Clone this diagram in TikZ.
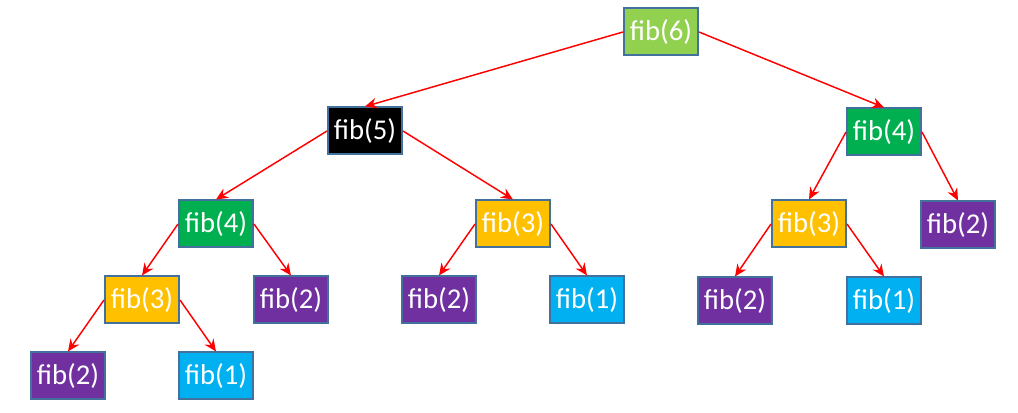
\documentclass[tikz,border=0pt]{standalone}
\usepackage{fontspec}
\setmainfont{Carlito}
\usetikzlibrary{arrows.meta}
\definecolor{boxborder}{HTML}{41719C}
\definecolor{lightgreen}{HTML}{92D050}
\definecolor{darkgreen}{HTML}{00B050}
\definecolor{gold}{HTML}{FFC000}
\definecolor{violet}{HTML}{7030A0}
\definecolor{skyblue}{HTML}{00B0F0}
\begin{document}
\begin{tikzpicture}[x=0.75pt,y=-0.75pt,
  fibbox/.style={draw=boxborder, line width=1.5pt, minimum width=55.5pt,
    minimum height=35.25pt, inner sep=0pt, text=white,
    font=\fontsize{21.5}{25}\selectfont},
  call/.style={draw=red, line width=1.1pt, -{Stealth[length=9pt,width=8pt]}}]
\useasboundingbox (0,0) rectangle (1018,413);
% tree of calls
\node[fibbox, fill=lightgreen] (f6)  at (661,32)  {fib(6)};
\node[fibbox, fill=black]      (f5)  at (365,131) {fib(5)};
\node[fibbox, fill=darkgreen]  (f4r) at (884,132) {fib(4)};
\node[fibbox, fill=darkgreen]  (f4l) at (216,224) {fib(4)};
\node[fibbox, fill=gold]       (f3m) at (513,224) {fib(3)};
\node[fibbox, fill=gold]       (f3r) at (809,224) {fib(3)};
\node[fibbox, fill=violet]     (f2r) at (958,225) {fib(2)};
\node[fibbox, fill=gold]       (f3l) at (142,300) {fib(3)};
\node[fibbox, fill=violet]     (f2a) at (291,300) {fib(2)};
\node[fibbox, fill=violet]     (f2b) at (439,300) {fib(2)};
\node[fibbox, fill=skyblue]    (f1a) at (587,300) {fib(1)};
\node[fibbox, fill=violet]     (f2c) at (735,301) {fib(2)};
\node[fibbox, fill=skyblue]    (f1b) at (884,301) {fib(1)};
\node[fibbox, fill=violet]     (f2d) at (68,376)  {fib(2)};
\node[fibbox, fill=skyblue]    (f1c) at (216,376) {fib(1)};
% recursive calls
\draw[call] (f6.west) -- (f5.north);
\draw[call] (f6.east) -- (f4r.north);
\draw[call] (f5.west) -- (f4l.north);
\draw[call] (f5.east) -- (f3m.north);
\draw[call] (f4l.west) -- (f3l.north);
\draw[call] (f4l.east) -- (f2a.north);
\draw[call] (f3l.west) -- (f2d.north);
\draw[call] (f3l.east) -- (f1c.north);
\draw[call] (f3m.west) -- (f2b.north);
\draw[call] (f3m.east) -- (f1a.north);
\draw[call] (f4r.west) -- (f3r.north);
\draw[call] (f4r.east) -- (f2r.north);
\draw[call] (f3r.west) -- (f2c.north);
\draw[call] (f3r.east) -- (f1b.north);
\end{tikzpicture}
\end{document}
